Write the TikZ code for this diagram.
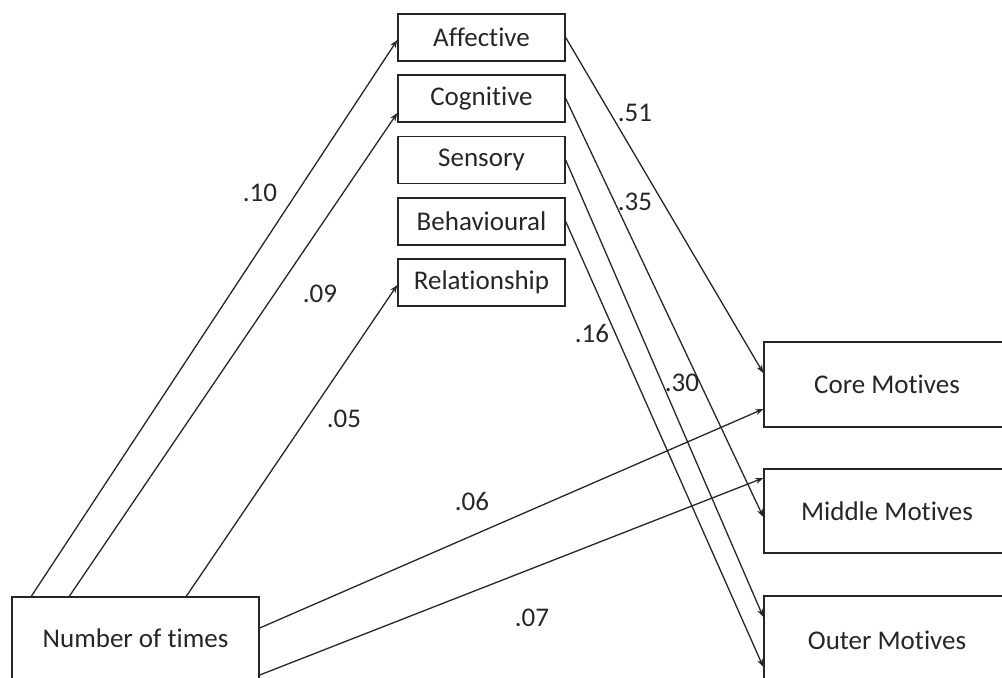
\documentclass[tikz,border=0pt]{standalone}
\usepackage{fontspec}
\setmainfont{Carlito}[Ligatures=NoCommon]
\usetikzlibrary{arrows.meta}
\begin{document}
\begin{tikzpicture}[x=0.5pt,y=-0.5pt,
  box/.style={draw=black!85, line width=0.7pt, rectangle, inner sep=0pt,
    font=\fontsize{13.5}{15}\selectfont, text=black!85},
  facet/.style={box, minimum width=83.5pt, minimum height=23.5pt},
  motive/.style={box, minimum width=123pt},
  link/.style={draw=black!85, line width=0.65pt, -{Stealth[length=4pt,width=3pt]}},
  coef/.style={font=\fontsize{13.5}{15}\selectfont, text=black!85, inner sep=0pt}]
\useasboundingbox (0,0) rectangle (1002,677);

% experience facets
\node[facet] (aff) at (481.5,37.5)  {Affective};
\node[facet] (cog) at (481.5,98.5)  {Cognitive};
\node[facet] (sen) at (481.5,160)   {Sensory};
\node[facet] (beh) at (481.5,221.5) {Behavioural};
\node[facet] (rel) at (481.5,282.5) {Relationship};

% motive layers
\node[motive, minimum height=42.5pt] (core) at (887,384.5) {Core Motives};
\node[motive, minimum height=42pt]   (mid)  at (887,511)   {Middle Motives};
\node[motive, minimum height=44pt]   (out)  at (887,640)   {Outer Motives};

% predictor
\node[box, minimum width=123.5pt, minimum height=41pt] (num) at (135.5,638) {Number of times};

% paths from the predictor
\draw[link] ([xshift=10pt]num.north west) -- ([yshift=-1.25pt]aff.west);
\draw[link] ([xshift=29pt]num.north west) -- ([yshift=-7.25pt]cog.west);
\draw[link] ([xshift=87.5pt]num.north west) -- ([yshift=-1.25pt]rel.west);
\draw[link] ([yshift=5pt]num.east) -- ([yshift=-12.25pt]core.west);
\draw[link] ([yshift=-18.5pt]num.east) -- ([yshift=16.5pt]mid.west);

% paths from the facets
\draw[link] (aff.east) -- ([yshift=5.75pt]core.west);
\draw[link] (cog.east) -- ([yshift=-3pt]mid.west);
\draw[link] (sen.east) -- ([yshift=11.5pt]out.west);
\draw[link] (beh.east) -- ([yshift=-13.5pt]out.west);

% path coefficients
\node[coef] (c10) at (260,193) {.10};
\node[coef] (c09) at (320,294) {.09};
\node[coef] (c05) at (344,419) {.05};
\node[coef] (c06) at (472,501) {.06};
\node[coef] (c07) at (532,618) {.07};
\node[coef] (c51) at (635,113) {.51};
\node[coef] (c35) at (635,202) {.35};
\node[coef] (c16) at (592,333) {.16};
\node[coef] (c30) at (682,383) {.30};
\end{tikzpicture}
\end{document}
